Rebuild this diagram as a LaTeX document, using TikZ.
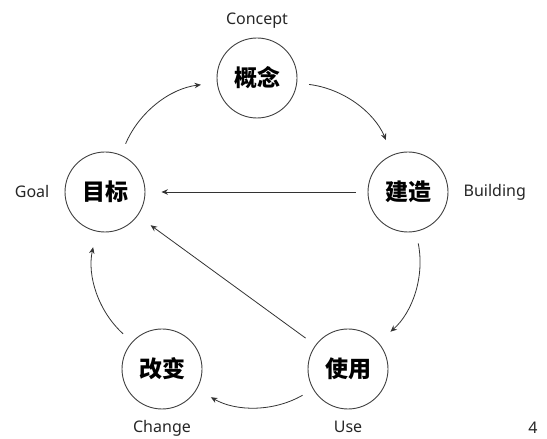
\documentclass[tikz,border=0pt]{standalone}
\usepackage{fontspec}
\setmainfont{Noto Sans}
\newfontfamily\cjk{Noto Sans CJK SC}
\usetikzlibrary{arrows.meta, positioning}

\begin{document}
\begin{tikzpicture}[
  x=1pt, y=1pt,
  node distance=15pt,
  stage/.style={circle, draw=black!75, line width=0.9pt, minimum size=80pt,
                inner sep=0pt, font=\cjk\bfseries\fontsize{23}{23}\selectfont},
  tag/.style={inner sep=0pt, font=\fontsize{16}{16}\selectfont, text=black!85},
  arrow/.style={-{Stealth[length=6.5pt, width=5.5pt]}, line width=0.8pt, draw=black!80,
                shorten <=12pt, shorten >=16pt}
]
\useasboundingbox (0,0) rectangle (547,439);

% the five stages
\node[stage] (concept)  at (257,361) {概念};
\node[stage] (building) at (408,247) {建造};
\node[stage] (use)      at (348,70)  {使用};
\node[stage] (change)   at (162,70)  {改变};
\node[stage] (goal)     at (105,247) {目标};

% english names
\node[tag, above=9pt of concept]  (conceptname)  {Concept};
\node[tag, right=15pt of building] (buildingname) {Building};
\node[tag, below=11pt of use]      (usename)      {Use};
\node[tag, below=11pt of change]   (changename)   {Change};
\node[tag, left=15pt of goal]      (goalname)     {Goal};
\node[tag] (pagenum) at (533,11) {4};

% cycle
\draw[arrow] (goal) to[bend left=30] (concept);
\draw[arrow] (concept) to[bend left=30] (building);
\draw[arrow] (building) to[bend left=30] (use);
\draw[arrow] (use) to[bend left=30] (change);
\draw[arrow] (change) to[bend left=30] (goal);

% feedback
\draw[arrow] (building) -- (goal);
\draw[arrow] (use) -- (goal);
\end{tikzpicture}
\end{document}
